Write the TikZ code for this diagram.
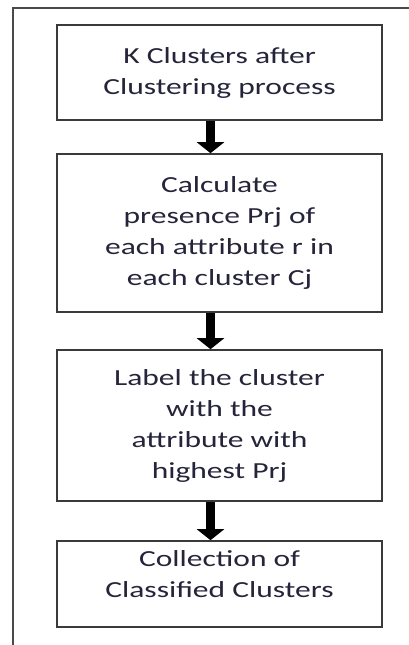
\documentclass[tikz,border=0pt]{standalone}
\usepackage{fontspec}
\setmainfont[FakeStretch=1.37]{Carlito}
\usetikzlibrary{arrows.meta}
\definecolor{txt}{HTML}{25243A}
\definecolor{boxline}{HTML}{3A3A3A}
\definecolor{frameline}{HTML}{4A4A4A}
\tikzset{
  stepbox/.style={draw=boxline, line width=1.6pt, minimum width=325pt, align=center,
    text=txt, font=\fontsize{23pt}{31pt}\selectfont, inner sep=0pt},
  flowarrow/.style={line width=9pt, draw=black, -{Triangle[width=27pt,length=11pt]}},
}
\begin{document}
\begin{tikzpicture}[x=1pt,y=-1pt]
  \useasboundingbox (0,0) rectangle (409,645);
  \fill[white] (0,0) rectangle (409,645);
  % outer frame (clipped)
  \coordinate (fcorner) at (13,8);
  \coordinate (fright) at (409,8);
  \coordinate (fbottom) at (13,645);
  \draw[frameline, line width=1.8pt] (fright) -- (fcorner) -- (fbottom);
  \node[stepbox, minimum height=95pt] (b1) at (219.5,72.5) {K Clusters after\\Clustering process};
  \node[stepbox, minimum height=158pt] (b2) at (219.5,233) {Calculate\\presence Prj of\\each attribute r in\\each cluster Cj};
  \node[stepbox, minimum height=151pt] (b3) at (219.5,425.5) {Label the cluster\\with the\\attribute with\\highest Prj};
  \node[stepbox, minimum height=86pt, text depth=19pt] (b4) at (219.5,584) {Collection of\\Classified Clusters};
  \draw[flowarrow] ([xshift=-9pt]b1.south) -- ([xshift=-9pt]b2.north);
  \draw[flowarrow] ([xshift=-9pt]b2.south) -- ([xshift=-9pt]b3.north);
  \draw[flowarrow] ([xshift=-9pt]b3.south) -- ([xshift=-9pt]b4.north);
\end{tikzpicture}
\end{document}
